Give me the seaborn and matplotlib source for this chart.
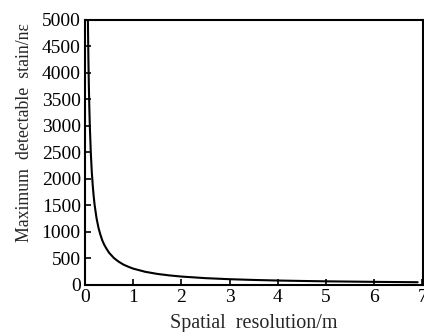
import matplotlib
matplotlib.use("Agg")
import matplotlib.pyplot as plt
import seaborn as sns
import pandas as pd

# values
resolution_m = [0.06, 0.07, 0.08, 0.09, 0.10, 0.12, 0.14, 0.16, 0.18, 0.20, 0.24, 0.28,
                0.32, 0.36, 0.40, 0.45, 0.50, 0.60, 0.70, 0.80, 0.90, 1.0, 1.25,
                1.5, 1.75, 2.0, 2.5, 3.0, 3.5, 4.0, 4.5, 5.0, 5.5, 6.0, 6.5, 6.9]
max_strain = [5000, 4290, 3750, 3330, 3000, 2500, 2140, 1880, 1670, 1500, 1250, 1070,
              940, 830, 750, 670, 600, 500, 430, 375, 335, 300, 240,
              200, 172, 150, 120, 100, 86, 75, 67, 60, 55, 50, 46, 43]
x_ticks = [0, 1, 2, 3, 4, 5, 6, 7]
y_ticks = [0, 500, 1000, 1500, 2000, 2500, 3000, 3500, 4000, 4500, 5000]

df = pd.DataFrame({"res": resolution_m, "strain": max_strain})

sns.set_theme(style="ticks")
plt.rcParams["font.family"] = ["Liberation Serif", "DejaVu Serif"]

fig = plt.figure(figsize=(4.24, 3.32), dpi=100)
ax = fig.add_axes([85 / 424, 1 - 284.5 / 332, (422.5 - 85) / 424, (284.5 - 20) / 332])
sns.lineplot(data=df, x="res", y="strain", ax=ax, color="black", linewidth=1.5)

ax.set_xlim(0, 7)
ax.set_ylim(0, 5000)
ax.set_xticks(x_ticks)
ax.set_yticks(y_ticks)
ax.tick_params(direction="in", length=4, width=1.2, labelsize=14, colors="black", pad=3)
for s in ax.spines.values():
    s.set_linewidth(1.5)
    s.set_color("black")
ax.set_xlabel("Spatial  resolution/m", fontsize=14.5)
ax.set_ylabel("Maximum  detectable  stain/nε", fontsize=12.8)
ax.xaxis.set_label_coords(0.5, -0.112)
ax.yaxis.set_label_coords(-0.155, 0.573)

fig.savefig("out.png", dpi=100)
